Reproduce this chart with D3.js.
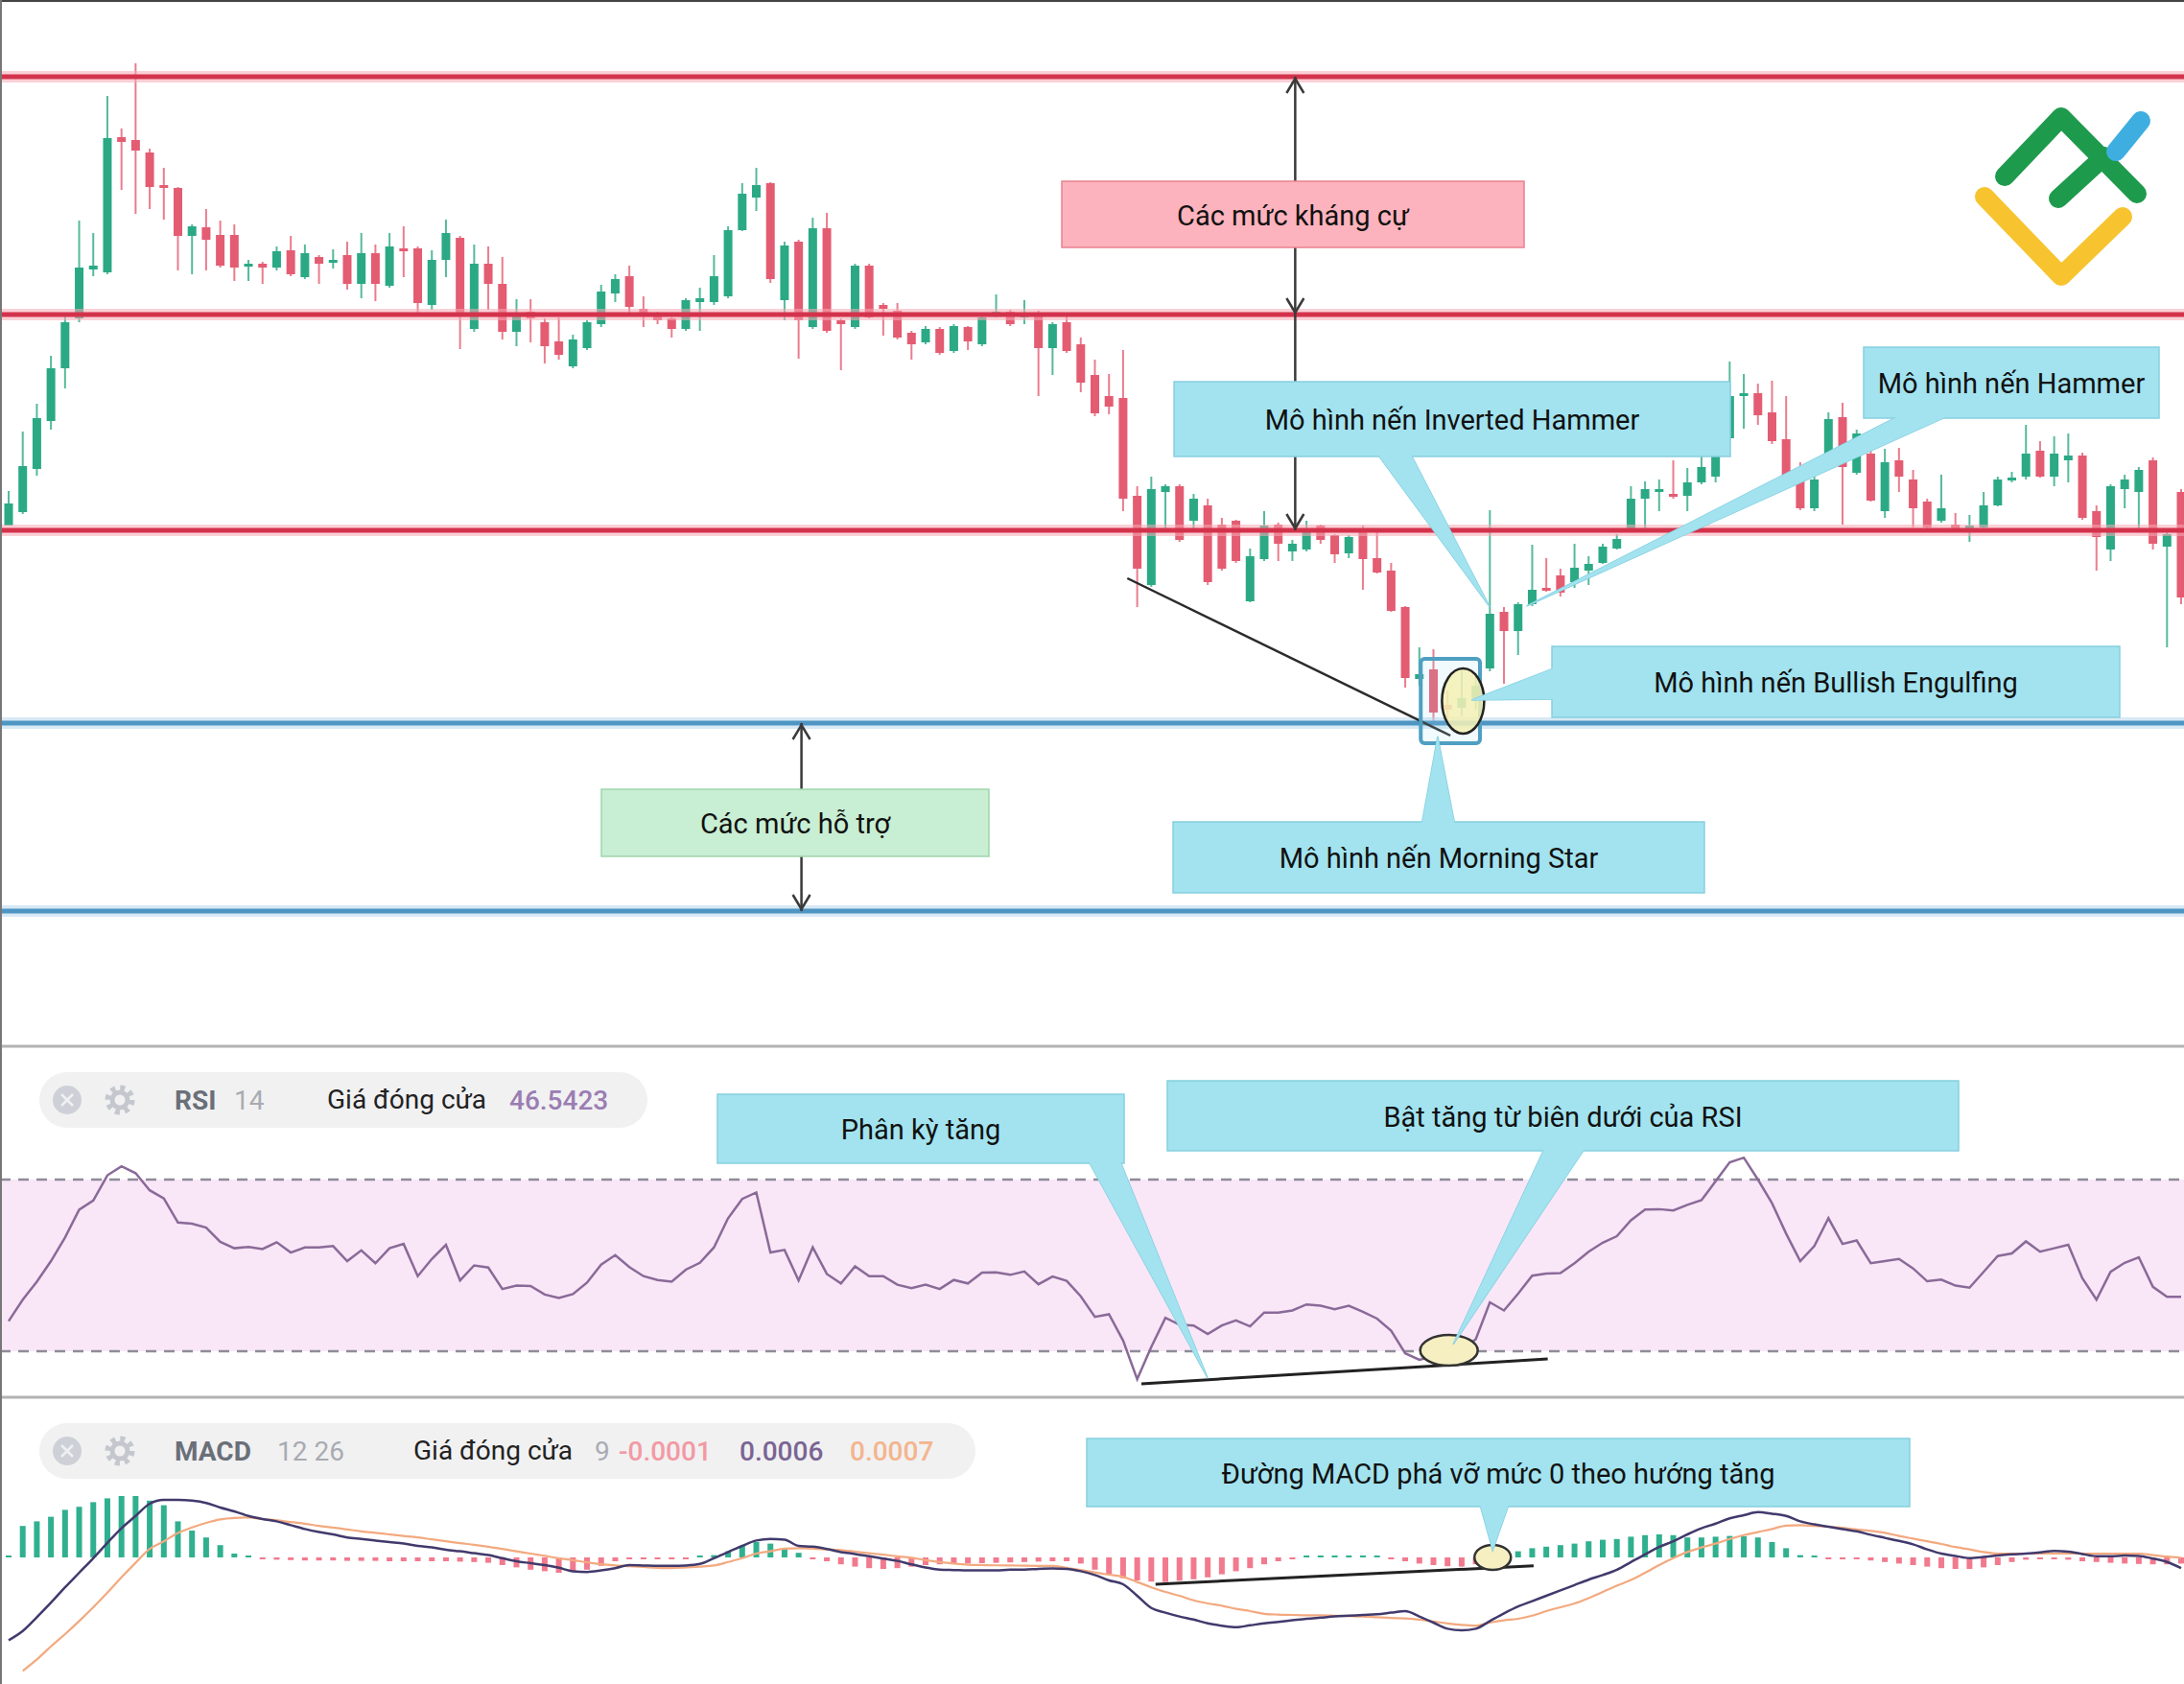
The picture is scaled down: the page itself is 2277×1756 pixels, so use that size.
<!DOCTYPE html>
<html>
<head>
<meta charset="utf-8">
<script src="https://cdn.jsdelivr.net/npm/d3@7"></script>
<style>
  body { margin: 0; background: #fff; }
  svg { display: block; }
  text { font-family: Roboto, "Noto Sans", "Liberation Sans", sans-serif; }
</style>
</head>
<body>
<svg id="chart" width="2277" height="1756"></svg>
<script>
const W = 2277, H = 1756;

// candles: [open, high, low, close] (price points)
const ohlc = [
[552,588,552,575],[566,650,564,614],[611,679,604,664],[661,729,652,716],[716,770,695,764],
[768,870,764,821],[819,857,812,823],[816,1000,814,956],[957,966,902,952],[954,1034,877,943],
[941,945,882,905],[907,925,871,904],[904,905,818,854],[854,866,814,864],[863,882,818,850],
[855,870,821,823],[855,866,807,821],[822,829,807,825],[825,827,804,821],[821,843,818,838],
[839,854,812,814],[811,845,809,836],[832,834,804,825],[826,840,820,829],[834,848,798,804],
[804,857,789,836],[836,845,786,804],[802,857,800,843],[841,864,811,838],[841,843,770,784],
[782,839,777,829],[829,871,811,857],[852,854,736,771],[757,845,754,825],[825,843,777,804],
[804,832,746,754],[754,788,739,771],[775,788,743,768],[764,768,721,739],[744,769,725,730],
[718,751,716,746],[737,766,735,764],[762,803,759,796],[794,814,785,809],[812,823,773,780],
[778,791,759,771],[773,775,762,766],[768,769,748,757],[757,789,755,787],[785,800,755,789],
[785,834,782,812],[791,864,789,860],[860,909,859,898],[894,925,880,907],[909,910,805,809],
[787,848,766,844],[848,850,726,766],[759,873,757,862],[862,878,753,755],[766,768,714,762],
[759,825,757,823],[823,825,768,769],[782,784,750,778],[776,784,746,748],[753,755,725,741],
[743,760,741,757],[757,759,730,732],[734,762,732,760],[759,760,735,744],[741,773,739,769],
[771,793,769,775],[775,777,760,762],[769,787,762,773],[773,776,687,737],[737,764,709,762],
[764,773,732,734],[741,748,691,701],[709,725,666,669],[687,710,668,676],[685,735,567,580],
[583,593,467,507],[490,603,488,590],[587,595,547,593],[593,595,535,537],[557,585,547,580],
[573,580,490,493],[553,560,505,507],[557,558,513,515],[473,528,472,520],[517,567,515,552],
[553,555,515,533],[525,537,515,533],[527,557,525,547],[552,553,533,537],[542,543,513,522],
[523,542,518,540],[548,552,485,517],[518,545,502,503],[505,513,462,463],[467,468,383,393],
[392,425,385,397],[402,423,347,357],[365,380,350,360],[362,400,353,372],[372,395,360,385],
[403,568,400,460],[462,467,387,442],[442,472,417,470],[470,532,468,485],[487,518,483,485],
[500,507,478,482],[493,533,487,508],[505,520,490,512],[513,533,512,530],[528,543,527,538],
[547,593,545,580],[580,598,547,590],[588,600,567,590],[585,620,580,582],[583,612,567,597],
[597,630,595,613],[603,632,597,627],[643,723,640,687],[687,710,653,690],[690,700,657,667],
[670,703,637,640],[642,687,600,603],[600,618,568,570],[570,605,567,600],[627,670,625,663],
[665,680,553,613],[607,652,605,648],[627,630,577,578],[567,632,560,618],[620,633,587,603],
[600,610,550,570],[577,580,547,550],[557,605,555,570],[553,565,545,547],[550,563,535,552],
[550,587,548,573],[573,603,572,600],[599,608,597,602],[603,657,600,627],[630,640,602,603],
[603,645,593,627],[620,648,597,625],[625,628,558,560],[567,573,505,540],[527,595,515,593],
[590,605,570,600],[587,613,547,610],[620,623,527,533],[530,545,425,543],[587,590,470,477]
];

const resistance = [1020, 772, 547];
const support = [346, 150];

const rsi = [
37,42,46.2,51,56.5,63,65.1,71,73.1,71.5,
67.5,65.6,60,59.7,58.8,55.5,54,54.3,53.8,55.4,
53,54.2,54.2,54.5,51,53.5,50.5,54,55,47.5,
51.5,54.8,46.5,50,49.5,44.5,45.3,45.2,43.2,42.4,
43.3,46,50.2,52.4,49.6,47.5,46.6,46.2,49,50.6,
54.2,61,65.5,67,53,53.6,46.5,54.2,48,45.8,
49.8,47.5,47.5,45.5,44.7,45.5,44.5,46.6,45.8,48.3,
48.4,47.8,48.6,45.6,47.4,46.4,42.8,38,38.6,32.5,
23.5,31,37.8,36.2,36,34,36,37.2,35.8,39,
39,39.5,40.9,40.6,39.8,40.6,39.2,37.6,34.8,29.5,
28,28.8,29.2,30.3,32.8,41.4,39.5,43.4,47.6,48.1,
48.2,50.5,53.2,55.3,56.8,60.5,63,63.1,62.8,64.1,
65.2,69.6,74,75.1,70,64.5,57.4,51,54.5,61,
55,55.8,50.5,51,51.5,49.3,46.3,46.7,45.3,44.8,
48.5,52.2,52.8,55.6,53.2,54,54.8,47,42,48.5,
50.6,51.9,45,42.7,42.7
];
const rsiBands = [70, 30];

// MACD values in units of 0.0001
const macdLine = [
-10.8,-9.6,-7.8,-5.9,-3.9,-2.0,-0.1,1.9,3.8,5.4,
7.0,7.5,7.5,7.4,7.1,6.5,6.0,5.4,5.0,4.7,
4.2,3.7,3.3,3.0,2.6,2.4,2.2,2.0,1.8,1.5,
1.3,1.0,0.8,0.55,0.3,-0.1,-0.5,-0.75,-1.0,-1.35,
-1.8,-1.9,-1.7,-1.4,-1.0,-1.05,-1.1,-1.1,-1.05,-0.85,
-0.1,0.7,1.5,2.2,2.4,2.3,1.5,1.4,1.1,0.7,
0.45,0.15,-0.15,-0.45,-0.9,-1.3,-1.6,-1.65,-1.7,-1.7,
-1.7,-1.6,-1.6,-1.5,-1.45,-1.5,-1.8,-2.3,-3.0,-3.5,
-5.0,-6.6,-7.2,-7.7,-8.1,-8.6,-8.9,-9.1,-8.85,-8.6,
-8.4,-8.2,-8.0,-7.85,-7.7,-7.6,-7.5,-7.4,-7.2,-7.0,
-7.7,-8.5,-9.3,-9.5,-9.3,-8.3,-7.3,-6.4,-5.7,-5.0,
-4.3,-3.6,-2.9,-2.3,-1.6,-0.6,0.4,1.35,2.1,3.0,
3.8,4.4,5.1,5.5,5.9,5.7,5.4,4.7,4.3,4.0,
3.7,3.4,2.95,2.55,2.15,1.7,1.05,0.5,0.2,-0.1,
0.05,0.25,0.4,0.5,0.65,0.85,0.75,0.45,0.15,0.15,
0.25,0.2,-0.15,-0.6,-1.4
];
const signalLine = [
null,-14.8,-13.3,-11.6,-10.0,-8.3,-6.5,-4.6,-2.6,-0.7,
1.1,2.1,3.2,3.9,4.5,4.95,5.15,5.2,5.0,4.85,
4.6,4.4,4.1,3.9,3.65,3.4,3.2,3.0,2.8,2.6,
2.35,2.1,1.85,1.65,1.4,1.1,0.8,0.5,0.2,-0.1,
-0.35,-0.65,-0.9,-1.05,-1.15,-1.25,-1.35,-1.4,-1.3,-1.2,
-1.05,-0.6,-0.1,0.5,0.8,1.15,1.2,1.15,1.05,0.95,
0.75,0.55,0.35,0.15,-0.05,-0.35,-0.6,-0.8,-0.95,-1.0,
-1.03,-1.05,-1.08,-1.1,-1.1,-1.35,-1.65,-1.95,-2.25,-2.55,
-3.2,-3.9,-4.5,-5.0,-5.6,-6.0,-6.3,-6.7,-7.0,-7.35,
-7.45,-7.5,-7.55,-7.55,-7.6,-7.65,-7.7,-7.8,-7.9,-7.95,
-8.1,-8.35,-8.6,-8.8,-8.9,-8.5,-8.2,-8.0,-7.6,-7.0,
-6.5,-6.0,-5.3,-4.5,-3.7,-2.95,-2.0,-1.0,-0.1,0.7,
1.3,1.8,2.4,2.9,3.3,3.7,4.15,4.2,4.1,4.0,
3.85,3.65,3.45,3.2,2.8,2.45,2.1,1.75,1.35,1.05,
0.7,0.5,0.5,0.5,0.5,0.5,0.5,0.5,0.5,0.5,
0.5,0.5,0.3,0.1,-0.05
];
const histogram = [
0,4.1,4.7,5.3,6.2,6.6,7.2,7.7,8.0,8.0,
7.4,6.8,4.7,3.5,2.6,1.6,0.5,0.1,-0.2,-0.3,
-0.35,-0.4,-0.4,-0.4,-0.45,-0.45,-0.45,-0.5,-0.5,-0.5,
-0.5,-0.5,-0.55,-0.6,-0.7,-1.0,-1.3,-1.6,-1.8,-2.0,
-1.9,-1.6,-1.1,-0.5,-0.2,-0.1,-0.1,-0.1,-0.05,0.1,
0.3,0.8,1.5,2.0,1.8,1.2,0.6,-0.1,-0.5,-0.9,
-1.2,-1.4,-1.5,-1.4,-1.2,-1.0,-0.9,-0.8,-0.8,-0.75,
-0.7,-0.65,-0.6,-0.55,-0.5,-0.5,-0.8,-1.6,-2.2,-2.7,
-3.0,-3.15,-3.2,-3.05,-2.85,-2.6,-2.2,-1.8,-1.4,-0.9,
-0.5,-0.2,0.1,0.2,0.2,0.2,0.15,0.1,-0.2,-0.5,
-0.8,-1.0,-1.15,-1.2,-0.9,0.2,0.5,0.8,1.2,1.4,
1.6,1.8,2.1,2.3,2.4,2.7,2.9,3.0,2.9,2.6,
2.6,2.7,2.8,2.75,2.6,2.0,1.2,0.3,0.05,-0.05,
-0.1,-0.2,-0.4,-0.6,-0.8,-1.0,-1.2,-1.4,-1.5,-1.5,
-1.3,-1.0,-0.6,-0.3,-0.2,-0.1,-0.3,-0.5,-0.6,-0.7,
-0.8,-0.85,-0.9,-0.9,-0.8
];

const labels = {
  resist: "Các mức kháng cự",
  support: "Các mức hỗ trợ",
  invHammer: "Mô hình nến Inverted Hammer",
  hammer: "Mô hình nến Hammer",
  engulf: "Mô hình nến Bullish Engulfing",
  morning: "Mô hình nến Morning Star",
  diverg: "Phân kỳ tăng",
  bounce: "Bật tăng từ biên dưới của RSI",
  macdBreak: "Đường MACD phá vỡ mức 0 theo hướng tăng"
};

// scales
const xs = d3.scaleLinear().domain([0, ohlc.length - 1]).range([9, 2274]);
const yP = d3.scaleLinear().domain([9, 1100]).range([1091, 0]);
const yR = d3.scaleLinear().domain([30, 70]).range([1409, 1230]);
const yM = d3.scaleLinear().domain([-16.5, 20.875]).range([1756, 1457]);

const UP = "#2ba985", DOWN = "#e45c72";
const CYAN = "#a2e3ef", CYAN_S = "#86cfe0";

const svg = d3.select("#chart");
svg.append("rect").attr("width", W).attr("height", H).attr("fill", "#fff");

// ---------- main pane ----------
const main = svg.append("g");

const cg = main.append("g");
cg.selectAll("line").data(ohlc).join("line")
  .attr("x1", (d, i) => xs(i)).attr("x2", (d, i) => xs(i))
  .attr("y1", d => yP(d[1])).attr("y2", d => yP(d[2]))
  .attr("stroke", d => d[3] >= d[0] ? UP : DOWN)
  .attr("stroke-opacity", 0.8)
  .attr("stroke-width", 2);
cg.selectAll("rect").data(ohlc).join("rect")
  .attr("x", (d, i) => xs(i) - 4.5)
  .attr("width", 9)
  .attr("y", d => yP(Math.max(d[0], d[3])))
  .attr("height", d => Math.max(3, Math.abs(yP(d[0]) - yP(d[3]))))
  .attr("fill", d => d[3] >= d[0] ? UP : DOWN);

// levels
function level(v, halo, core) {
  main.append("line").attr("x1", 0).attr("x2", W).attr("y1", yP(v)).attr("y2", yP(v))
    .attr("stroke", halo).attr("stroke-width", 12).attr("stroke-opacity", 0.55);
  main.append("line").attr("x1", 0).attr("x2", W).attr("y1", yP(v)).attr("y2", yP(v))
    .attr("stroke", core).attr("stroke-width", 5);
}
resistance.forEach(v => level(v, "#f6aab5", "#d3324c"));
support.forEach(v => level(v, "#b7d7ec", "#4e95c3"));

// arrows
function chevron(g, x, y, dir) {
  // dir -1 = points up, 1 = points down
  g.append("path")
    .attr("d", `M${x - 9},${y - dir * 15}L${x},${y}L${x + 9},${y - dir * 15}`)
    .attr("fill", "none").attr("stroke", "#3a3a3a").attr("stroke-width", 2.5);
}
function vline(g, x, y1, y2) {
  g.append("line").attr("x1", x).attr("x2", x).attr("y1", y1).attr("y2", y2)
    .attr("stroke", "#3a3a3a").attr("stroke-width", 2.5);
}
const ax = xs(91.2);
vline(main, ax, yP(resistance[0]), yP(resistance[1]));
chevron(main, ax, yP(resistance[0]) + 2, -1);
chevron(main, ax, yP(resistance[1]) - 2, 1);
vline(main, ax, yP(resistance[1]), yP(resistance[2]));
chevron(main, ax, yP(resistance[2]) - 2, 1);
const sx = xs(56.2);
vline(main, sx, yP(support[0]), yP(support[1]));
chevron(main, sx, yP(support[0]) + 2, -1);
chevron(main, sx, yP(support[1]) - 2, 1);

// trend line to morning star
main.append("line")
  .attr("x1", xs(79.3)).attr("y1", yP(497)).attr("x2", xs(102.2)).attr("y2", yP(333))
  .attr("stroke", "#2b2b2b").attr("stroke-width", 2.5);

// morning star box + ellipse
main.append("rect")
  .attr("x", xs(100.1)).attr("y", yP(413))
  .attr("width", xs(104.3) - xs(100.1)).attr("height", yP(325) - yP(413))
  .attr("rx", 4).attr("fill", "rgba(160,220,240,0.15)")
  .attr("stroke", "#4f9fc2").attr("stroke-width", 4);
main.append("ellipse")
  .attr("cx", xs(103.1)).attr("cy", yP(369)).attr("rx", 22).attr("ry", 34)
  .attr("fill", "#f4f0b4").attr("fill-opacity", 0.85)
  .attr("stroke", "#222").attr("stroke-width", 2.5);

// callouts
function callout(g, box, ptr, label, fill, stroke, size) {
  const pts = ptr ? ptr.map(p => p.join(",")).join(" ") : null;
  if (pts) g.append("polygon").attr("points", pts).attr("fill", fill).attr("stroke", stroke).attr("stroke-width", 1.5);
  g.append("rect").attr("x", box[0]).attr("y", box[1]).attr("width", box[2]).attr("height", box[3])
    .attr("fill", fill).attr("stroke", stroke).attr("stroke-width", 1.5);
  if (pts) g.append("polygon").attr("points", pts).attr("fill", fill);
  g.append("text")
    .attr("x", box[0] + box[2] / 2).attr("y", box[1] + box[3] / 2 + 1)
    .attr("text-anchor", "middle").attr("dominant-baseline", "central")
    .attr("font-size", size || 29).attr("font-weight", 400).attr("fill", "#111")
    .text(label);
}

callout(main, [1107, 189, 482, 69], null, labels.resist, "#fdb3bd", "#e8818f");
callout(main, [627, 823, 404, 70], null, labels.support, "#c8eed3", "#9fd6ad");
callout(main, [1224, 398, 580, 78],
  [[1435, 472], [1470, 472], [xs(105), yP(467)]], labels.invHammer, CYAN, CYAN_S);
callout(main, [1943, 362, 308, 74],
  [[1983, 432], [2035, 432], [xs(107.6), yP(468)]], labels.hammer, CYAN, CYAN_S);
callout(main, [1618, 674, 592, 74],
  [[1622, 696], [1622, 729], [xs(103.7), yP(370)]], labels.engulf, CYAN, CYAN_S);
callout(main, [1223, 857, 554, 74],
  [[1482, 861], [1517, 861], [xs(101.3), yP(332)]], labels.morning, CYAN, CYAN_S);

// logo
const logo = svg.append("g").attr("fill", "none")
  .attr("stroke-linecap", "round").attr("stroke-linejoin", "round").attr("stroke-width", 20);
logo.append("path").attr("d", "M2069,205L2149,288L2213,226").attr("stroke", "#f7c430");
logo.append("path").attr("d", "M2090,184L2149,122L2228,202").attr("stroke", "#1e9a4c");
logo.append("path").attr("d", "M2146,207L2194,163").attr("stroke", "#1e9a4c");
logo.append("path").attr("d", "M2206,158L2232,126").attr("stroke", "#3eaee0");

// ---------- RSI pane ----------
const rp = svg.append("g");
rp.append("rect").attr("x", 0).attr("width", W)
  .attr("y", yR(rsiBands[0])).attr("height", yR(rsiBands[1]) - yR(rsiBands[0]))
  .attr("fill", "#f9e7f8");
rsiBands.forEach(v => rp.append("line").attr("x1", 0).attr("x2", W).attr("y1", yR(v)).attr("y2", yR(v))
  .attr("stroke", "#8e8c98").attr("stroke-width", 2.5).attr("stroke-dasharray", "11 8"));
rp.append("path").datum(rsi)
  .attr("d", d3.line().x((d, i) => xs(i)).y(d => yR(d)))
  .attr("fill", "none").attr("stroke", "#8a6a98").attr("stroke-width", 2.5);

rp.append("line")
  .attr("x1", xs(80.3)).attr("y1", yR(22.4)).attr("x2", xs(109.1)).attr("y2", yR(28.2))
  .attr("stroke", "#222").attr("stroke-width", 3);
rp.append("ellipse").attr("cx", xs(102.1)).attr("cy", yR(30.2)).attr("rx", 30).attr("ry", 16)
  .attr("fill", "#f6efc2").attr("stroke", "#333").attr("stroke-width", 2.5);

callout(rp, [748, 1141, 424, 72],
  [[1135, 1211], [1168, 1211], [xs(85), yR(23.7)]], labels.diverg, CYAN, CYAN_S);
callout(rp, [1217, 1127, 825, 73],
  [[1610, 1198], [1652, 1198], [xs(102.4), yR(31.6)]], labels.bounce, CYAN, CYAN_S);

// ---------- MACD pane ----------
const mp = svg.append("g");
mp.selectAll("rect").data(histogram).join("rect")
  .attr("x", (d, i) => xs(i) - 3).attr("width", 6)
  .attr("y", d => d >= 0 ? yM(d) - (Math.abs(yM(d) - yM(0)) < 2 ? 2 - Math.abs(yM(d) - yM(0)) : 0) : yM(0))
  .attr("height", d => Math.max(2, Math.abs(yM(d) - yM(0))))
  .attr("fill", d => d >= 0 ? "#30b08f" : "#f27a8e");
mp.append("path").datum(signalLine)
  .attr("d", d3.line().defined(d => d !== null).x((d, i) => xs(i)).y(d => yM(d)).curve(d3.curveMonotoneX))
  .attr("fill", "none").attr("stroke", "#f3a97f").attr("stroke-width", 2.2);
mp.append("path").datum(macdLine)
  .attr("d", d3.line().x((d, i) => xs(i)).y(d => yM(d)).curve(d3.curveMonotoneX))
  .attr("fill", "none").attr("stroke", "#413a6c").attr("stroke-width", 2.5);

mp.append("line")
  .attr("x1", xs(81.3)).attr("y1", yM(-3.5)).attr("x2", xs(108.1)).attr("y2", yM(-1.1))
  .attr("stroke", "#222").attr("stroke-width", 3);
mp.append("ellipse").attr("cx", xs(105.2)).attr("cy", yM(0)).attr("rx", 19).attr("ry", 13)
  .attr("fill", "#f6efc2").attr("stroke", "#333").attr("stroke-width", 2.5);
callout(mp, [1133, 1500, 858, 71],
  [[1543, 1569], [1573, 1569], [xs(105.2), yM(0.9)]], labels.macdBreak, CYAN, CYAN_S);

// ---------- pane headers ----------
function icons(g, cy) {
  g.append("circle").attr("cx", 70).attr("cy", cy).attr("r", 15).attr("fill", "#cdd1d7");
  g.append("path").attr("d", `M64,${cy - 6}L76,${cy + 6}M76,${cy - 6}L64,${cy + 6}`)
    .attr("stroke", "#eef0f2").attr("stroke-width", 2.5);
  g.append("circle").attr("cx", 125).attr("cy", cy).attr("r", 12.5).attr("fill", "none")
    .attr("stroke", "#c4c8ce").attr("stroke-width", 6).attr("stroke-dasharray", "4.9 4.9");
  g.append("circle").attr("cx", 125).attr("cy", cy).attr("r", 8).attr("fill", "#f1f1f2")
    .attr("stroke", "#c4c8ce").attr("stroke-width", 5);
}
function htext(g, x, y, t, color, weight) {
  g.append("text").attr("x", x).attr("y", y).attr("font-size", 28)
    .attr("font-weight", weight || 400).attr("fill", color).text(t);
}
const h1 = svg.append("g");
h1.append("rect").attr("x", 41).attr("y", 1118).attr("width", 634).attr("height", 58).attr("rx", 29).attr("fill", "#f1f1f2");
icons(h1, 1147);
htext(h1, 182, 1157, "RSI", "#6a6f78", 700);
htext(h1, 244, 1157, "14", "#a8abb1");
htext(h1, 341, 1156, "Giá đóng cửa", "#222");
htext(h1, 531, 1157, "46.5423", "#9b7db3", 500);

const h2 = svg.append("g");
h2.append("rect").attr("x", 41).attr("y", 1484).attr("width", 976).attr("height", 58).attr("rx", 29).attr("fill", "#f1f1f2");
icons(h2, 1513);
htext(h2, 182, 1523, "MACD", "#6a6f78", 700);
htext(h2, 289, 1523, "12 26", "#a8abb1");
htext(h2, 431, 1522, "Giá đóng cửa", "#222");
htext(h2, 620, 1523, "9", "#a8abb1");
htext(h2, 645, 1523, "-0.0001", "#f29aa4", 500);
htext(h2, 771, 1523, "0.0006", "#7a6592", 500);
htext(h2, 886, 1523, "0.0007", "#f3b58e", 500);

// ---------- frame ----------
[1091, 1457].forEach(y => svg.append("line").attr("x1", 0).attr("x2", W).attr("y1", y).attr("y2", y)
  .attr("stroke", "#b3b3b3").attr("stroke-width", 3));
svg.append("line").attr("x1", 0).attr("x2", W).attr("y1", 1).attr("y2", 1).attr("stroke", "#444").attr("stroke-width", 2);
svg.append("line").attr("x1", 1).attr("x2", 1).attr("y1", 0).attr("y2", H).attr("stroke", "#777").attr("stroke-width", 2);
</script>
</body>
</html>
